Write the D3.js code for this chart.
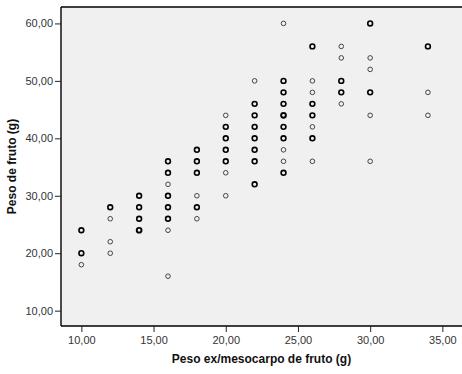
<!DOCTYPE html>
<html>
<head>
<meta charset="utf-8">
<script src="https://cdn.jsdelivr.net/npm/d3@7"></script>
<style>
  html, body { margin: 0; padding: 0; background: #ffffff; }
  svg { display: block; }
  text { font-family: "Liberation Sans", Arial, sans-serif; }
</style>
</head>
<body>
<svg id="chart" width="462" height="374"></svg>
<script>
// Observations: exocarp/mesocarp weight (x) and whole fruit weight (y), in grams.
// Repeated pairs are listed once per observation; one line per x value.
const exoMesocarpWeight = [
  10, 10, 10, 10, 10,
  12, 12, 12, 12, 12,
  14, 14, 14, 14, 14, 14, 14, 14, 14,
  16, 16, 16, 16, 16, 16, 16, 16, 16, 16, 16, 16, 16,
  18, 18, 18, 18, 18, 18, 18, 18, 18, 18,
  20, 20, 20, 20, 20, 20, 20, 20, 20, 20, 20,
  22, 22, 22, 22, 22, 22, 22, 22, 22, 22, 22, 22, 22, 22, 22,
  24, 24, 24, 24, 24, 24, 24, 24, 24, 24, 24, 24, 24, 24, 24, 24, 24, 24,
  26, 26, 26, 26, 26, 26, 26, 26, 26, 26, 26, 26,
  28, 28, 28, 28, 28, 28, 28,
  30, 30, 30, 30, 30, 30, 30, 30,
  34, 34, 34, 34
];
const fruitWeight = [
  24, 24, 20, 20, 18,
  28, 28, 26, 22, 20,
  30, 30, 28, 28, 26, 26, 24, 24, 24,
  36, 36, 34, 34, 32, 30, 30, 28, 28, 26, 26, 24, 16,
  38, 38, 36, 36, 34, 34, 30, 28, 28, 26,
  44, 42, 42, 40, 40, 38, 38, 36, 36, 34, 30,
  50, 46, 46, 44, 44, 42, 42, 40, 40, 38, 38, 36, 36, 32, 32,
  60, 50, 50, 48, 48, 46, 46, 44, 44, 44, 42, 42, 40, 40, 38, 36, 34, 34,
  56, 56, 50, 48, 46, 46, 44, 44, 42, 40, 40, 36,
  56, 54, 50, 50, 48, 48, 46,
  60, 60, 54, 52, 48, 48, 44, 36,
  56, 56, 48, 44
];
const xTicks = [10, 15, 20, 25, 30, 35];
const yTicks = [10, 20, 30, 40, 50, 60];
const xTitle = "Peso ex/mesocarpo de fruto (g)";
const yTitle = "Peso de fruto (g)";

const svg = d3.select("#chart");
const plot = { left: 61, right: 462, top: 7, bottom: 326 };

const x = d3.scaleLinear().domain([8.59, 36.36]).range([plot.left, plot.right]);
const y = d3.scaleLinear().domain([7.33, 62.86]).range([plot.bottom, plot.top]);

const fmt = v => d3.format(".2f")(v).replace(".", ",");

// plot area
svg.append("rect")
  .attr("x", plot.left).attr("y", plot.top)
  .attr("width", plot.right - plot.left).attr("height", plot.bottom - plot.top)
  .attr("fill", "#f0f0f0");

// frame lines (top, left, bottom)
const frame = svg.append("g").attr("stroke", "#000").attr("stroke-width", 1.4).attr("fill", "none");
frame.append("line").attr("x1", plot.left).attr("x2", plot.right).attr("y1", plot.top).attr("y2", plot.top);
frame.append("line").attr("x1", plot.left).attr("x2", plot.left).attr("y1", plot.top).attr("y2", plot.bottom);
frame.append("line").attr("x1", plot.left).attr("x2", plot.right).attr("y1", plot.bottom).attr("y2", plot.bottom);

// axes
const xAxis = svg.append("g")
  .attr("transform", `translate(0,${plot.bottom})`)
  .call(d3.axisBottom(x).tickValues(xTicks).tickFormat(fmt).tickSize(6).tickPadding(4));
const yAxis = svg.append("g")
  .attr("transform", `translate(${plot.left},0)`)
  .call(d3.axisLeft(y).tickValues(yTicks).tickFormat(fmt).tickSize(6).tickPadding(2));

[xAxis, yAxis].forEach(a => {
  a.select(".domain").remove();
  a.selectAll(".tick line").attr("stroke", "#222").attr("stroke-width", 1);
  a.selectAll(".tick text")
    .attr("fill", "#333")
    .style("font-size", "11px")
    .style("font-family", "'Liberation Sans', Arial, sans-serif");
});

// points: overlapping observations are drawn heavier
const pts = d3.rollups(
  exoMesocarpWeight.map((v, i) => [v, fruitWeight[i]]),
  g => g.length,
  d => d[0] + "|" + d[1]
).map(([k, n]) => { const [a, b] = k.split("|").map(Number); return { a, b, n }; });

svg.append("g").selectAll("circle")
  .data(pts)
  .join("circle")
  .attr("cx", d => x(d.a))
  .attr("cy", d => y(d.b))
  .attr("r", d => d.n > 1 ? 2.4 : 2.3)
  .attr("fill", "none")
  .attr("stroke", d => d.n > 1 ? "#000" : "#444")
  .attr("stroke-width", d => d.n > 2 ? 1.9 : d.n > 1 ? 1.6 : 1);

// axis titles
svg.append("text")
  .attr("x", (plot.left + plot.right) / 2)
  .attr("y", 363)
  .attr("text-anchor", "middle")
  .attr("font-weight", "bold")
  .attr("font-size", "12px")
  .attr("fill", "#111")
  .text(xTitle);

svg.append("text")
  .attr("transform", `translate(16,${(plot.top + plot.bottom) / 2}) rotate(-90)`)
  .attr("text-anchor", "middle")
  .attr("font-weight", "bold")
  .attr("font-size", "12px")
  .attr("fill", "#111")
  .text(yTitle);
</script>
</body>
</html>
